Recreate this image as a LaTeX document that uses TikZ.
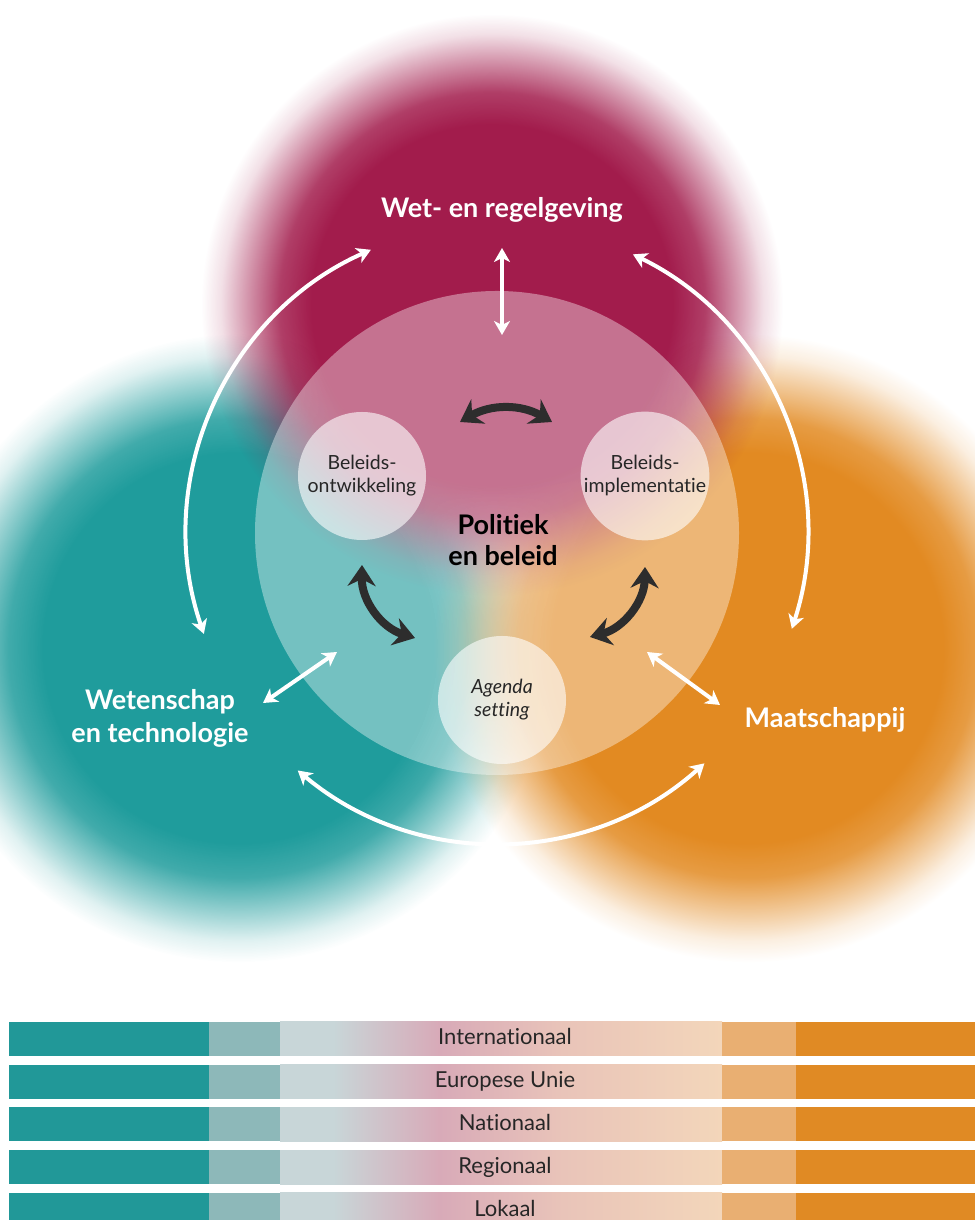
\documentclass[tikz,border=0pt]{standalone}
\usepackage{fontspec}
\setmainfont{Lato}[Ligatures={NoCommon,NoRare}]
\usetikzlibrary{arrows.meta,fadings}

\definecolor{wetred}{RGB}{162,28,76}
\definecolor{wtteal}{RGB}{31,156,156}
\definecolor{mporange}{RGB}{226,138,34}
\definecolor{darkarrow}{RGB}{45,45,45}
\definecolor{barteal}{RGB}{33,152,152}
\definecolor{bargrey}{RGB}{141,184,185}
\definecolor{barpeach}{RGB}{233,175,114}
\definecolor{barorange}{RGB}{224,138,36}
\definecolor{barleft}{RGB}{200,214,216}
\definecolor{barpink}{RGB}{216,170,184}
\definecolor{barmid}{RGB}{233,196,185}
\definecolor{barright}{RGB}{243,214,186}

\pgfdeclareradialshading{blobshade}{\pgfpointorigin}{color(0bp)=(pgftransparent!0); color(180bp)=(pgftransparent!0); color(212bp)=(pgftransparent!15); color(245bp)=(pgftransparent!55); color(270bp)=(pgftransparent!86); color(290bp)=(pgftransparent!100); color(300bp)=(pgftransparent!100)}
\pgfdeclarefading{blobfade}{\pgfuseshading{blobshade}}
\pgfdeclarehorizontalshading{barshade}{100bp}{color(0bp)=(barleft); color(25bp)=(barleft); color(31bp)=(barleft); color(43bp)=(barpink); color(57bp)=(barmid); color(75bp)=(barright); color(100bp)=(barright)}

\begin{document}
\begin{tikzpicture}[x=1pt,y=1pt]
    \tikzstyle{blob}=[path fading=blobfade, fit fading=false]
    \tikzstyle{small circle}=[circle, fill=white, fill opacity=.6, text opacity=1, minimum size=128pt, inner sep=0pt, align=center, text=black!85, font=\fontsize{19.5}{23}\selectfont]
    \tikzstyle{blob label}=[text=white, align=center, font=\fontsize{27}{33}\selectfont\bfseries]
    \tikzstyle{white arrow}=[draw=white, line width=4pt, {Stealth[length=14pt,width=16pt,inset=4pt]}-{Stealth[length=14pt,width=16pt,inset=4pt]}]
    \tikzstyle{dark arrow}=[draw=darkarrow, line width=8pt, {Stealth[length=21pt,width=28pt,inset=7pt]}-{Stealth[length=21pt,width=28pt,inset=7pt]}]
    \tikzstyle{level bar}=[anchor=base, font=\fontsize{22}{26}\selectfont, text=black!85]

    \useasboundingbox (0,0) rectangle (974,1220);

    \fill[wtteal, blob, fading transform={shift={(238,572)}, scale=1.08}] (238,572) circle (330pt);
    \fill[mporange, blob, fading transform={shift={(748,572)}, scale=1.08}] (748,572) circle (330pt);
    \fill[wetred, blob, fading transform={shift={(492,915)}}] (492,915) circle (300pt);

    \node(pc)[circle, fill=white, fill opacity=.38, minimum size=484pt, inner sep=0pt] at (497,687) {};

    \node(bo)[small circle] at (362,744) {Beleids-\\ontwikkeling};
    \node(bi)[small circle] at (645,744) {Beleids-\\implementatie};
    \node(as)[small circle, font=\fontsize{19.5}{23}\selectfont\itshape] at (502,520) {Agenda\\setting};
    \node(pb)[align=center, font=\fontsize{27}{31}\selectfont\bfseries, text=black] at (503,680) {Politiek\\en beleid};

    \node(wet)[blob label] at (502,1010) {Wet- en regelgeving};
    \node(wt)[blob label] at (160,502) {Wetenschap\\en technologie};
    \node(mp)[blob label] at (825,500) {Maatschappij};

    \coordinate (wetT) at (502,972);
    \coordinate (wetB) at (502,885);
    \coordinate (wetL) at ([shift={(114:310pt)}]497,687);
    \coordinate (wetR) at ([shift={(64:310pt)}]497,687);
    \coordinate (wtU) at ([shift={(199:310pt)}]497,687);
    \coordinate (wtD) at ([shift={(230:310pt)}]497,687);
    \coordinate (mpU) at ([shift={(-18:310pt)}]497,687);
    \coordinate (mpD) at ([shift={(-48:310pt)}]497,687);
    \coordinate (wtA) at (263,517);
    \coordinate (wtB) at (337,568);
    \coordinate (mpA) at (720,515);
    \coordinate (mpB) at (647,568);

    \draw[white arrow] (wetT) -- (wetB);
    \draw[white arrow] (wetL) arc[start angle=114, end angle=199, radius=310pt];
    \draw[white arrow] (wetR) arc[start angle=64, end angle=-18, radius=310pt];
    \draw[white arrow] (wtD) arc[start angle=230, end angle=312, radius=310pt];
    \draw[white arrow] (wtA) -- (wtB);
    \draw[white arrow] (mpB) -- (mpA);

    \coordinate (boR) at (460,798);
    \coordinate (biL) at (552,798);
    \coordinate (boD) at (362,655);
    \coordinate (asL) at (415,582);
    \coordinate (biD) at (645,653);
    \coordinate (asR) at (590,583);
    \draw[dark arrow] (boR) to[bend left=30] (biL);
    \draw[dark arrow] (boD) to[bend right=37] (asL);
    \draw[dark arrow] (biD) to[bend left=37] (asR);

    \foreach \lvl [count=\i] in {Internationaal, Europese Unie, Nationaal, Regionaal, Lokaal}{
        \pgfmathsetmacro\yt{198-(\i-1)*42.75}
        \pgfmathsetmacro\yb{\yt-34}
        \fill[barteal] (9,\yb) rectangle (209,\yt);
        \fill[bargrey] (209,\yb) rectangle (280,\yt);
        \shade[shading=barshade] (280,\yb) rectangle (722,\yt);
        \fill[barpeach] (722,\yb) rectangle (796,\yt);
        \fill[barorange] (796,\yb) rectangle (980,\yt);
        \node(bar\i)[level bar] at (505,\yt-23) {\lvl};
    }
\end{tikzpicture}
\end{document}
